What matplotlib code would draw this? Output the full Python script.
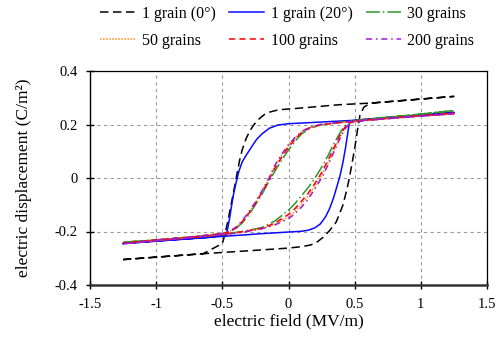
import matplotlib
matplotlib.use("Agg")
import matplotlib.pyplot as plt

plt.rcParams['font.family'] = ['Liberation Serif', 'DejaVu Serif']
plt.rcParams['axes.unicode_minus'] = False

# ---------------- data ----------------
# 1 grain (0 deg): lower branch (E increasing) then upper branch (E decreasing)
E_g0 = [-1.25, -0.645, -0.3, 0.0, 0.11, 0.17, 0.22, 0.26, 0.31, 0.36, 0.41, 0.44, 0.46, 0.48, 0.50,
        0.52, 0.54, 0.57, 0.62, 1.25,
        0.62, 0.385, 0.08, -0.05, -0.1, -0.145, -0.18, -0.22, -0.26, -0.29, -0.32, -0.35, -0.37, -0.395,
        -0.42, -0.44, -0.46, -0.48, -0.50, -0.645, -1.25]
D_g0 = [-0.305, -0.283, -0.272, -0.262, -0.256, -0.25, -0.238, -0.222, -0.197, -0.165, -0.103, -0.045, 0.0, 0.055, 0.11,
        0.175, 0.235, 0.265, 0.28, 0.305,
        0.28, 0.274, 0.261, 0.256, 0.252, 0.246, 0.238, 0.222, 0.2, 0.178, 0.148, 0.105, 0.065, 0.0,
        -0.065, -0.115, -0.165, -0.21, -0.245, -0.283, -0.305]

# 1 grain (20 deg)
E_g20 = [-1.25, -0.9, -0.49, -0.2, 0.0, 0.1, 0.15, 0.2, 0.24, 0.28, 0.31, 0.34, 0.37, 0.39,
         0.41, 0.43, 0.45, 0.46, 0.47, 0.8, 1.25,
         0.8, 0.47, 0.2, 0.0, -0.08, -0.145, -0.2, -0.24, -0.27, -0.32, -0.35, -0.375, -0.395,
         -0.415, -0.43, -0.445, -0.46, -0.47, -0.6, -1.25]
D_g20 = [-0.245, -0.232, -0.218, -0.208, -0.202, -0.199, -0.195, -0.186, -0.172, -0.145, -0.115, -0.075, -0.025, 0.01,
         0.055, 0.11, 0.175, 0.205, 0.213, 0.228, 0.245,
         0.228, 0.215, 0.208, 0.203, 0.198, 0.186, 0.165, 0.145, 0.123, 0.085, 0.06, 0.025, -0.015,
         -0.06, -0.103, -0.15, -0.19, -0.212, -0.222, -0.245]

# multi-grain loops share the same field samples
E_multi = [-1.25, -1.0, -0.7, -0.49, -0.35, -0.2, -0.1, 0.0, 0.05, 0.10, 0.15, 0.20, 0.25, 0.30,
           0.35, 0.40, 0.43, 0.46, 0.49, 0.6, 0.9, 1.25,
           0.9, 0.6, 0.47, 0.35, 0.24, 0.16, 0.10, 0.05, 0.0, -0.05, -0.10, -0.15, -0.20,
           -0.25, -0.30, -0.35, -0.40, -0.45, -0.49, -0.7, -1.0, -1.25]
D_30 = [-0.24, -0.232, -0.22, -0.21, -0.2, -0.185, -0.16, -0.12, -0.095, -0.065, -0.035, 0.0, 0.04, 0.085,
        0.135, 0.178, 0.196, 0.206, 0.212, 0.22, 0.234, 0.252,
        0.234, 0.221, 0.213, 0.206, 0.198, 0.185, 0.165, 0.138, 0.105, 0.068, 0.028, -0.015, -0.06,
        -0.10, -0.138, -0.168, -0.19, -0.202, -0.207, -0.219, -0.231, -0.24]
D_50 = [-0.245, -0.234, -0.221, -0.211, -0.202, -0.189, -0.172, -0.145, -0.124, -0.097, -0.067, -0.03, 0.01, 0.058,
        0.112, 0.165, 0.19, 0.204, 0.21, 0.216, 0.228, 0.24,
        0.228, 0.217, 0.211, 0.205, 0.2, 0.189, 0.172, 0.15, 0.121, 0.086, 0.046, -0.004, -0.05,
        -0.092, -0.13, -0.162, -0.186, -0.2, -0.207, -0.219, -0.232, -0.245]
D_100 = [-0.244, -0.233, -0.221, -0.211, -0.201, -0.188, -0.168, -0.136, -0.114, -0.086, -0.056, -0.02, 0.02, 0.068,
         0.12, 0.17, 0.192, 0.205, 0.211, 0.217, 0.229, 0.242,
         0.229, 0.218, 0.211, 0.205, 0.199, 0.188, 0.17, 0.145, 0.115, 0.079, 0.039, -0.008, -0.054,
         -0.095, -0.132, -0.164, -0.188, -0.201, -0.207, -0.219, -0.232, -0.244]
D_200 = [-0.246, -0.235, -0.222, -0.212, -0.203, -0.19, -0.175, -0.152, -0.133, -0.108, -0.078, -0.04, 0.0, 0.05,
         0.105, 0.16, 0.185, 0.202, 0.209, 0.215, 0.228, 0.24,
         0.228, 0.218, 0.211, 0.206, 0.2, 0.19, 0.174, 0.152, 0.125, 0.09, 0.05, -0.003, -0.048,
         -0.09, -0.127, -0.16, -0.185, -0.2, -0.207, -0.218, -0.232, -0.246]

labels = ['1 grain (0°)', '1 grain (20°)', '30 grains', '50 grains', '100 grains', '200 grains']
x_ticks = [-1.5, -1, -0.5, 0, 0.5, 1, 1.5]
y_ticks = [-0.4, -0.2, 0, 0.2, 0.4]
x_ticklabels = ['-1.5', '-1', '-0.5', '0', '0.5', '1', '1.5']
y_ticklabels = ['-0.4', '-0.2', '0', '0.2', '0.4']

# ---------------- figure ----------------
fig = plt.figure(figsize=(4.97, 3.44), dpi=100)
ax = fig.add_axes([90 / 497, 1 - 285 / 344, 397 / 497, 214 / 344])

h = []
h += ax.plot(E_g0, D_g0, color='black', lw=1.1, linestyle=(0, (5.5, 3.0)))
h += ax.plot(E_g20, D_g20, color='#0a0aff', lw=1.1, linestyle='-')
h += ax.plot(E_multi, D_30, color='#2e962e', lw=1.1, linestyle=(0, (9, 2, 1, 2)))
h += ax.plot(E_multi, D_50, color='#ff8c1a', lw=1.1, linestyle=(0, (1, 1)))
h += ax.plot(E_multi, D_100, color='#ff0000', lw=1.1, linestyle=(0, (4, 2.8)))
h += ax.plot(E_multi, D_200, color='#9b1ed6', lw=1.1, linestyle=(0, (4, 2.5, 1, 2.5)))

ax.set_xlim(-1.5, 1.5)
ax.set_ylim(-0.4, 0.4)
ax.set_xticks(x_ticks)
ax.set_xticklabels(x_ticklabels)
ax.set_yticks(y_ticks)
ax.set_yticklabels(y_ticklabels)
ax.grid(True, color='#9a9a9a', linestyle=(0, (3, 3)), lw=0.8)
ax.set_axisbelow(True)

ax.tick_params(direction='inout', length=6, width=1, labelsize=10.5, colors='black')
ax.tick_params(axis='x', pad=6)
ax.tick_params(axis='y', pad=6)

for s in ['top', 'right']:
    ax.spines[s].set_linewidth(0.9)
    ax.spines[s].set_color('black')
ax.spines['left'].set_linewidth(1.0)
ax.spines['left'].set_color('black')
ax.spines['bottom'].set_linewidth(1.8)
ax.spines['bottom'].set_color('#333333')

ax.set_xlabel('electric field (MV/m)', fontsize=12.5, labelpad=2)
ax.set_ylabel('electric displacement (C/m²)', fontsize=12.5, labelpad=16)

order = [0, 3, 1, 4, 2, 5]
fig.legend([h[i] for i in order], [labels[i] for i in order], ncol=3,
           loc='upper left', bbox_to_anchor=(100 / 497, 1 - 6 / 344),
           frameon=False, fontsize=11.5, handlelength=2.2, handletextpad=0.4,
           columnspacing=0.85, labelspacing=0.68, borderpad=0, borderaxespad=0)

fig.savefig('out.png', dpi=100)
